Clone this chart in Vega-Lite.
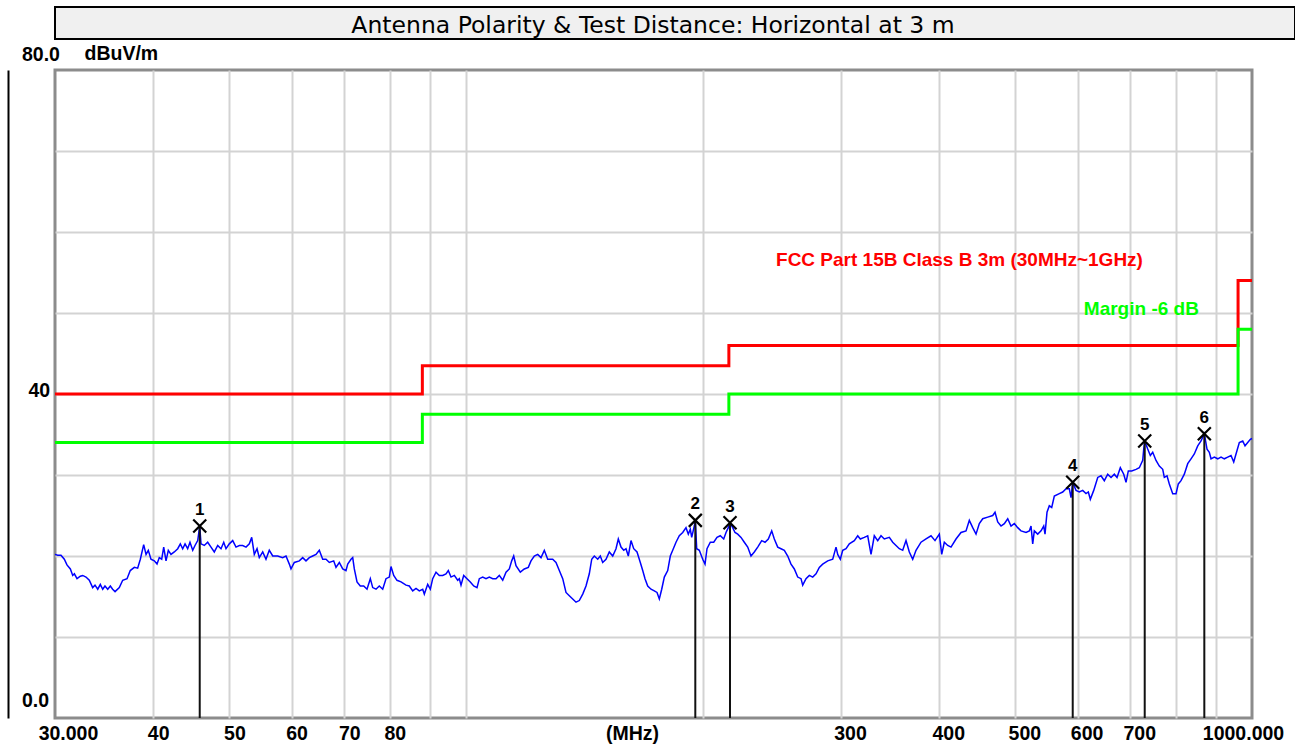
{
  "$schema": "https://vega.github.io/schema/vega-lite/v6.json",
  "background": "white",
  "padding": {"left": 6, "top": 6, "right": 0, "bottom": 0},
  "spacing": 1,
  "datasets": {
    "limits": [
      {"series": "limit", "freq": 30, "level": 40},
      {"series": "limit", "freq": 88, "level": 43.5},
      {"series": "limit", "freq": 216, "level": 46},
      {"series": "limit", "freq": 960, "level": 54},
      {"series": "limit", "freq": 1000, "level": 54},
      {"series": "margin", "freq": 30, "level": 34},
      {"series": "margin", "freq": 88, "level": 37.5},
      {"series": "margin", "freq": 216, "level": 40},
      {"series": "margin", "freq": 960, "level": 48},
      {"series": "margin", "freq": 1000, "level": 48}
    ],
    "notes": [
      {"series": "limit", "freq": 248, "level": 56.6, "text": "FCC Part 15B Class B 3m (30MHz~1GHz)"},
      {"series": "margin", "freq": 611, "level": 50.5, "text": "Margin -6 dB"}
    ],
    "markers": [
      {"label": "1", "freq": 45.84, "level": 23.7},
      {"label": "2", "freq": 195.77, "level": 24.4},
      {"label": "3", "freq": 216.72, "level": 24.1},
      {"label": "4", "freq": 591.44, "level": 29.1},
      {"label": "5", "freq": 730.32, "level": 34.2},
      {"label": "6", "freq": 869.64, "level": 35.1}
    ],
    "trace": [
      {"freq": 30.0, "level": 20.2}, {"freq": 30.24, "level": 20.1}, {"freq": 30.53, "level": 20.1}, {"freq": 30.83, "level": 19.6},
      {"freq": 31.07, "level": 18.9}, {"freq": 31.38, "level": 18.4}, {"freq": 31.6, "level": 17.6}, {"freq": 31.75, "level": 17.8},
      {"freq": 32.0, "level": 17.2}, {"freq": 32.31, "level": 17.5}, {"freq": 32.54, "level": 17.6}, {"freq": 32.85, "level": 17.4},
      {"freq": 33.17, "level": 17.0}, {"freq": 33.5, "level": 16.1}, {"freq": 33.73, "level": 16.4}, {"freq": 34.0, "level": 15.9},
      {"freq": 34.26, "level": 16.5}, {"freq": 34.5, "level": 15.9}, {"freq": 34.73, "level": 16.3}, {"freq": 35.01, "level": 15.9},
      {"freq": 35.28, "level": 16.3}, {"freq": 35.52, "level": 15.9}, {"freq": 35.77, "level": 15.6}, {"freq": 36.22, "level": 16.1},
      {"freq": 36.58, "level": 17.0}, {"freq": 37.05, "level": 17.2}, {"freq": 37.4, "level": 18.2}, {"freq": 37.85, "level": 18.6},
      {"freq": 38.22, "level": 18.5}, {"freq": 38.52, "level": 19.6}, {"freq": 38.9, "level": 21.4}, {"freq": 39.17, "level": 20.2},
      {"freq": 39.43, "level": 20.7}, {"freq": 39.74, "level": 19.6}, {"freq": 40.13, "level": 19.4}, {"freq": 40.45, "level": 19.0},
      {"freq": 40.72, "level": 19.8}, {"freq": 41.01, "level": 19.6}, {"freq": 41.25, "level": 21.1}, {"freq": 41.53, "level": 19.4},
      {"freq": 41.81, "level": 20.7}, {"freq": 42.14, "level": 20.2}, {"freq": 42.55, "level": 20.5}, {"freq": 42.98, "level": 20.9},
      {"freq": 43.31, "level": 21.5}, {"freq": 43.61, "level": 20.9}, {"freq": 43.91, "level": 21.5}, {"freq": 44.25, "level": 20.9},
      {"freq": 44.55, "level": 21.7}, {"freq": 44.91, "level": 20.7}, {"freq": 45.21, "level": 21.3}, {"freq": 45.57, "level": 21.9},
      {"freq": 45.84, "level": 23.7}, {"freq": 46.01, "level": 21.5}, {"freq": 46.46, "level": 21.3}, {"freq": 46.92, "level": 21.7},
      {"freq": 47.38, "level": 21.1}, {"freq": 47.84, "level": 20.5}, {"freq": 48.32, "level": 21.3}, {"freq": 48.79, "level": 20.9},
      {"freq": 49.18, "level": 21.7}, {"freq": 49.51, "level": 20.9}, {"freq": 49.99, "level": 21.5}, {"freq": 50.49, "level": 21.9},
      {"freq": 50.98, "level": 21.1}, {"freq": 51.48, "level": 21.3}, {"freq": 51.99, "level": 21.3}, {"freq": 52.5, "level": 21.1},
      {"freq": 53.01, "level": 21.5}, {"freq": 53.38, "level": 22.3}, {"freq": 53.79, "level": 20.2}, {"freq": 54.22, "level": 20.9},
      {"freq": 54.58, "level": 19.8}, {"freq": 55.13, "level": 20.5}, {"freq": 55.66, "level": 19.6}, {"freq": 56.2, "level": 20.7},
      {"freq": 56.77, "level": 20.0}, {"freq": 57.6, "level": 20.0}, {"freq": 58.45, "level": 19.8}, {"freq": 59.02, "level": 20.0},
      {"freq": 59.6, "level": 19.0}, {"freq": 59.89, "level": 18.4}, {"freq": 60.48, "level": 19.2}, {"freq": 61.37, "level": 19.4},
      {"freq": 61.98, "level": 19.8}, {"freq": 62.58, "level": 19.4}, {"freq": 63.19, "level": 19.8}, {"freq": 63.82, "level": 20.0},
      {"freq": 64.44, "level": 20.2}, {"freq": 65.07, "level": 20.7}, {"freq": 65.72, "level": 19.6}, {"freq": 66.36, "level": 19.6},
      {"freq": 67.01, "level": 19.2}, {"freq": 67.87, "level": 19.4}, {"freq": 68.33, "level": 18.6}, {"freq": 69.0, "level": 19.2},
      {"freq": 69.69, "level": 18.4}, {"freq": 70.36, "level": 18.2}, {"freq": 70.72, "level": 19.0}, {"freq": 71.4, "level": 19.6},
      {"freq": 71.76, "level": 19.8}, {"freq": 72.1, "level": 18.4}, {"freq": 72.67, "level": 16.8}, {"freq": 73.37, "level": 16.3},
      {"freq": 74.11, "level": 16.3}, {"freq": 74.83, "level": 15.9}, {"freq": 75.56, "level": 17.2}, {"freq": 76.09, "level": 16.1},
      {"freq": 76.83, "level": 15.9}, {"freq": 77.57, "level": 16.3}, {"freq": 78.35, "level": 15.9}, {"freq": 79.11, "level": 17.2},
      {"freq": 79.88, "level": 17.4}, {"freq": 80.28, "level": 18.7}, {"freq": 80.92, "level": 17.6}, {"freq": 81.7, "level": 17.0},
      {"freq": 82.67, "level": 16.8}, {"freq": 83.89, "level": 16.4}, {"freq": 84.7, "level": 16.3}, {"freq": 85.55, "level": 15.7},
      {"freq": 86.38, "level": 16.0}, {"freq": 87.22, "level": 15.7}, {"freq": 88.09, "level": 15.9}, {"freq": 88.51, "level": 15.3},
      {"freq": 89.39, "level": 16.5}, {"freq": 90.08, "level": 15.9}, {"freq": 90.71, "level": 17.2}, {"freq": 91.59, "level": 18.0},
      {"freq": 92.48, "level": 17.6}, {"freq": 93.41, "level": 17.6}, {"freq": 94.31, "level": 17.8}, {"freq": 94.95, "level": 18.2},
      {"freq": 95.71, "level": 17.4}, {"freq": 96.64, "level": 17.6}, {"freq": 97.6, "level": 17.0}, {"freq": 98.06, "level": 17.2},
      {"freq": 98.55, "level": 16.4}, {"freq": 99.33, "level": 17.6}, {"freq": 100.3, "level": 17.2}, {"freq": 101.27, "level": 16.8},
      {"freq": 102.29, "level": 16.3}, {"freq": 103.28, "level": 16.1}, {"freq": 103.98, "level": 17.2}, {"freq": 105.02, "level": 17.4},
      {"freq": 106.04, "level": 17.2}, {"freq": 107.07, "level": 17.4}, {"freq": 108.14, "level": 17.2}, {"freq": 109.19, "level": 17.2},
      {"freq": 110.25, "level": 17.6}, {"freq": 111.36, "level": 17.0}, {"freq": 112.44, "level": 18.0}, {"freq": 113.53, "level": 18.4},
      {"freq": 114.33, "level": 19.4}, {"freq": 115.0, "level": 20.0}, {"freq": 115.78, "level": 18.8}, {"freq": 117.25, "level": 18.0},
      {"freq": 118.63, "level": 18.4}, {"freq": 120.03, "level": 18.6}, {"freq": 120.98, "level": 19.4}, {"freq": 122.16, "level": 20.0},
      {"freq": 123.38, "level": 20.2}, {"freq": 124.58, "level": 19.8}, {"freq": 125.79, "level": 20.7}, {"freq": 127.05, "level": 19.6},
      {"freq": 128.92, "level": 19.6}, {"freq": 130.17, "level": 19.2}, {"freq": 131.44, "level": 18.2}, {"freq": 132.76, "level": 17.2},
      {"freq": 134.04, "level": 15.5}, {"freq": 135.35, "level": 15.1}, {"freq": 136.7, "level": 14.7}, {"freq": 138.03, "level": 14.3},
      {"freq": 139.37, "level": 14.5}, {"freq": 140.77, "level": 15.3}, {"freq": 142.13, "level": 16.3}, {"freq": 143.51, "level": 17.8},
      {"freq": 144.53, "level": 19.6}, {"freq": 145.63, "level": 20.0}, {"freq": 147.09, "level": 19.6}, {"freq": 148.21, "level": 20.0},
      {"freq": 149.26, "level": 19.2}, {"freq": 150.71, "level": 19.6}, {"freq": 152.17, "level": 20.5}, {"freq": 153.7, "level": 20.0},
      {"freq": 155.19, "level": 20.9}, {"freq": 156.24, "level": 22.1}, {"freq": 157.48, "level": 21.1}, {"freq": 158.73, "level": 20.7},
      {"freq": 159.8, "level": 20.9}, {"freq": 160.88, "level": 20.0}, {"freq": 162.16, "level": 21.9}, {"freq": 163.45, "level": 20.9},
      {"freq": 165.04, "level": 20.5}, {"freq": 166.64, "level": 19.2}, {"freq": 167.82, "level": 18.2}, {"freq": 168.95, "level": 17.2},
      {"freq": 170.29, "level": 16.3}, {"freq": 171.95, "level": 15.9}, {"freq": 173.62, "level": 15.7}, {"freq": 175.0, "level": 15.5},
      {"freq": 176.18, "level": 14.7}, {"freq": 177.42, "level": 15.9}, {"freq": 178.78, "level": 17.4}, {"freq": 180.57, "level": 18.2},
      {"freq": 181.95, "level": 20.0}, {"freq": 183.23, "level": 20.7}, {"freq": 185.01, "level": 21.7}, {"freq": 186.81, "level": 22.5},
      {"freq": 188.68, "level": 22.9}, {"freq": 190.51, "level": 23.5}, {"freq": 191.8, "level": 22.7}, {"freq": 192.93, "level": 23.3},
      {"freq": 193.72, "level": 22.3}, {"freq": 195.2, "level": 23.7}, {"freq": 195.77, "level": 24.4}, {"freq": 196.58, "level": 20.9},
      {"freq": 198.08, "level": 20.7}, {"freq": 200.07, "level": 19.6}, {"freq": 201.42, "level": 19.0}, {"freq": 202.6, "level": 20.9},
      {"freq": 204.57, "level": 21.7}, {"freq": 206.62, "level": 21.7}, {"freq": 208.62, "level": 22.3}, {"freq": 210.65, "level": 22.5},
      {"freq": 212.76, "level": 22.1}, {"freq": 214.2, "level": 22.9}, {"freq": 215.65, "level": 23.5}, {"freq": 216.72, "level": 24.1},
      {"freq": 218.44, "level": 23.5}, {"freq": 219.92, "level": 22.9}, {"freq": 221.67, "level": 22.7}, {"freq": 223.82, "level": 22.3},
      {"freq": 225.99, "level": 21.7}, {"freq": 228.26, "level": 21.1}, {"freq": 230.47, "level": 20.0}, {"freq": 232.71, "level": 20.5},
      {"freq": 235.04, "level": 21.1}, {"freq": 237.81, "level": 21.9}, {"freq": 240.12, "level": 21.7}, {"freq": 242.46, "level": 22.1},
      {"freq": 244.88, "level": 23.1}, {"freq": 246.76, "level": 22.1}, {"freq": 249.23, "level": 21.1}, {"freq": 251.64, "level": 20.9},
      {"freq": 254.09, "level": 20.7}, {"freq": 256.63, "level": 20.0}, {"freq": 259.13, "level": 19.0}, {"freq": 261.65, "level": 18.4},
      {"freq": 264.26, "level": 17.4}, {"freq": 266.83, "level": 17.2}, {"freq": 268.16, "level": 16.4}, {"freq": 270.77, "level": 17.2},
      {"freq": 273.4, "level": 17.6}, {"freq": 276.14, "level": 17.4}, {"freq": 278.82, "level": 17.8}, {"freq": 281.53, "level": 18.6},
      {"freq": 284.34, "level": 19.0}, {"freq": 288.54, "level": 19.4}, {"freq": 292.8, "level": 19.6}, {"freq": 295.64, "level": 21.1},
      {"freq": 297.12, "level": 20.2}, {"freq": 299.39, "level": 19.6}, {"freq": 301.5, "level": 20.7}, {"freq": 304.43, "level": 20.9},
      {"freq": 307.39, "level": 21.5}, {"freq": 311.92, "level": 21.9}, {"freq": 315.05, "level": 22.5}, {"freq": 317.45, "level": 22.1},
      {"freq": 321.2, "level": 22.3}, {"freq": 324.41, "level": 22.5}, {"freq": 327.56, "level": 20.2}, {"freq": 330.74, "level": 22.5},
      {"freq": 334.06, "level": 21.9}, {"freq": 337.3, "level": 22.5}, {"freq": 340.58, "level": 22.1}, {"freq": 345.6, "level": 22.3},
      {"freq": 349.06, "level": 21.7}, {"freq": 352.45, "level": 21.3}, {"freq": 355.88, "level": 20.9}, {"freq": 359.44, "level": 20.7},
      {"freq": 362.93, "level": 21.9}, {"freq": 366.46, "level": 20.5}, {"freq": 370.12, "level": 19.6}, {"freq": 373.72, "level": 20.7},
      {"freq": 379.23, "level": 21.7}, {"freq": 384.83, "level": 22.1}, {"freq": 390.51, "level": 22.5}, {"freq": 395.11, "level": 21.9},
      {"freq": 400.12, "level": 22.7}, {"freq": 402.95, "level": 20.2}, {"freq": 406.03, "level": 21.7}, {"freq": 410.09, "level": 21.3},
      {"freq": 414.07, "level": 21.1}, {"freq": 420.18, "level": 22.1}, {"freq": 426.38, "level": 22.9}, {"freq": 432.68, "level": 23.1},
      {"freq": 436.88, "level": 24.4}, {"freq": 441.25, "level": 23.5}, {"freq": 445.54, "level": 22.7}, {"freq": 449.87, "level": 24.0},
      {"freq": 454.37, "level": 24.6}, {"freq": 461.07, "level": 24.8}, {"freq": 467.87, "level": 25.0}, {"freq": 471.04, "level": 25.4},
      {"freq": 474.78, "level": 24.2}, {"freq": 479.39, "level": 23.7}, {"freq": 484.05, "level": 24.0}, {"freq": 488.89, "level": 24.6},
      {"freq": 493.64, "level": 23.7}, {"freq": 498.44, "level": 24.0}, {"freq": 503.43, "level": 23.5}, {"freq": 508.31, "level": 23.1},
      {"freq": 515.81, "level": 22.9}, {"freq": 520.83, "level": 23.1}, {"freq": 523.43, "level": 23.7}, {"freq": 526.04, "level": 21.5},
      {"freq": 528.51, "level": 23.1}, {"freq": 533.8, "level": 22.7}, {"freq": 538.99, "level": 23.1}, {"freq": 543.27, "level": 23.7},
      {"freq": 545.34, "level": 22.7}, {"freq": 548.54, "level": 25.4}, {"freq": 552.25, "level": 26.2}, {"freq": 556.15, "level": 26.0},
      {"freq": 560.41, "level": 27.4}, {"freq": 568.67, "level": 27.7}, {"freq": 574.36, "level": 27.9}, {"freq": 579.95, "level": 28.3},
      {"freq": 585.58, "level": 28.3}, {"freq": 588.5, "level": 27.2}, {"freq": 591.44, "level": 29.1}, {"freq": 597.19, "level": 28.1},
      {"freq": 602.99, "level": 27.9}, {"freq": 609.02, "level": 28.1}, {"freq": 614.94, "level": 27.7}, {"freq": 619.1, "level": 27.9},
      {"freq": 622.74, "level": 27.0}, {"freq": 628.97, "level": 28.1}, {"freq": 636.38, "level": 29.7}, {"freq": 642.56, "level": 29.9},
      {"freq": 648.81, "level": 29.3}, {"freq": 655.3, "level": 30.1}, {"freq": 661.67, "level": 29.7}, {"freq": 668.1, "level": 30.1},
      {"freq": 673.4, "level": 29.7}, {"freq": 679.94, "level": 30.9}, {"freq": 686.75, "level": 30.1}, {"freq": 691.39, "level": 29.1},
      {"freq": 696.07, "level": 30.5}, {"freq": 703.04, "level": 30.5}, {"freq": 711.95, "level": 30.7}, {"freq": 718.87, "level": 30.9},
      {"freq": 726.06, "level": 31.8}, {"freq": 728.19, "level": 33.2}, {"freq": 730.32, "level": 34.2}, {"freq": 736.77, "level": 33.2},
      {"freq": 742.4, "level": 32.4}, {"freq": 747.64, "level": 32.8}, {"freq": 754.91, "level": 31.8}, {"freq": 762.23, "level": 31.1},
      {"freq": 769.86, "level": 30.7}, {"freq": 773.48, "level": 29.7}, {"freq": 779.63, "level": 29.9}, {"freq": 784.9, "level": 28.9},
      {"freq": 792.75, "level": 27.7}, {"freq": 800.45, "level": 27.7}, {"freq": 805.86, "level": 28.9}, {"freq": 812.26, "level": 29.3},
      {"freq": 820.16, "level": 30.1}, {"freq": 828.36, "level": 31.4}, {"freq": 836.41, "level": 32.0}, {"freq": 844.53, "level": 32.6},
      {"freq": 852.99, "level": 33.6}, {"freq": 861.27, "level": 34.2}, {"freq": 869.64, "level": 35.1}, {"freq": 876.55, "level": 33.2},
      {"freq": 882.48, "level": 32.8}, {"freq": 886.88, "level": 32.0}, {"freq": 895.49, "level": 32.2}, {"freq": 904.46, "level": 32.0},
      {"freq": 913.25, "level": 32.2}, {"freq": 922.12, "level": 32.0}, {"freq": 931.35, "level": 32.2}, {"freq": 940.4, "level": 32.4},
      {"freq": 947.87, "level": 31.6}, {"freq": 954.27, "level": 32.6}, {"freq": 963.54, "level": 34.0}, {"freq": 973.19, "level": 34.2},
      {"freq": 979.77, "level": 33.6}, {"freq": 987.55, "level": 34.0}, {"freq": 995.11, "level": 34.4}, {"freq": 1000, "level": 34.5}
    ]
  },
  "vconcat": [
    {
      "width": 1240,
      "height": 32,
      "view": {"fill": "#f0f0f0", "stroke": "#000000", "strokeWidth": 2},
      "data": {"values": [{"t": "Antenna Polarity & Test Distance: Horizontal at 3 m"}]},
      "mark": {"type": "text", "font": "DejaVu Sans", "fontSize": 23.5, "baseline": "middle", "align": "center", "dy": 3, "dx": -22, "color": "#000000"},
      "encoding": {"text": {"field": "t", "type": "nominal"}}
    },
    {
      "width": 1197,
      "height": 648,
      "view": {"stroke": "#8c8c8c", "strokeWidth": 3, "fill": "white"},
      "encoding": {
        "x": {
          "field": "freq",
          "type": "quantitative",
          "scale": {"type": "log", "domain": [30, 1000], "nice": false},
          "axis": {
            "values": [30, 40, 50, 60, 70, 80, 90, 100, 200, 300, 400, 500, 600, 700, 800, 900, 1000],
            "labelExpr": "indexof([30,40,50,60,70,80,300,400,500,600,700,1000], datum.value) < 0 ? '' : (datum.value == 30 ? '30.000' : (datum.value == 1000 ? '1000.000' : format(datum.value, 'd')))",
            "domain": false,
            "ticks": false,
            "grid": true,
            "gridColor": "#d3d3d3",
            "gridWidth": 2,
            "gridOpacity": {"condition": {"test": "datum.value == 30 || datum.value == 1000", "value": 0}, "value": 1},
            "labelFlush": false,
            "labelOverlap": false,
            "labelAlign": "center",
            "labelBaseline": "top",
            "labelPadding": 6,
            "labelOffset": {"condition": [{"test": "datum.value == 30", "value": 13}, {"test": "datum.value == 1000", "value": -9}, {"test": "datum.value < 100", "value": 5}], "value": 9},
            "labelFont": "Liberation Sans",
            "labelFontWeight": "bold",
            "labelFontSize": 19.5,
            "labelColor": "#000000",
            "title": "(MHz)",
            "titleX": 577,
            "titleY": 6,
            "titleAlign": "center",
            "titleBaseline": "top",
            "titleFont": "Liberation Sans",
            "titleFontWeight": "bold",
            "titleFontSize": 19.5,
            "titleColor": "#000000"
          }
        },
        "y": {
          "field": "level",
          "type": "quantitative",
          "scale": {"domain": [0, 80], "nice": false, "zero": false},
          "axis": {
            "values": [0, 10, 20, 30, 40, 50, 60, 70, 80],
            "labelExpr": "datum.value == 80 ? '80.0' : (datum.value == 40 ? '40' : (datum.value == 0 ? '0.0' : ''))",
            "offset": 47,
            "domain": true,
            "domainColor": "#000000",
            "domainWidth": 2,
            "ticks": false,
            "grid": true,
            "gridColor": "#d3d3d3",
            "gridWidth": 2,
            "gridOpacity": {"condition": {"test": "datum.value == 0 || datum.value == 80", "value": 0}, "value": 1},
            "labelOverlap": false,
            "labelFlush": false,
            "labelAlign": "left",
            "labelBaseline": "middle",
            "labelPadding": {"condition": {"test": "datum.value == 40", "value": -20}, "value": -13.5},
            "labelOffset": {"condition": [{"test": "datum.value == 80", "value": -16}, {"test": "datum.value == 40", "value": -4}], "value": -18},
            "labelFont": "Liberation Sans",
            "labelFontWeight": "bold",
            "labelFontSize": 19.5,
            "labelColor": "#000000",
            "title": "dBuV/m",
            "titleAngle": 0,
            "titleX": 76,
            "titleY": -17,
            "titleAlign": "left",
            "titleBaseline": "middle",
            "titleFont": "Liberation Sans",
            "titleFontWeight": "bold",
            "titleFontSize": 19.5,
            "titleColor": "#000000"
          }
        }
      },
      "layer": [
        {
          "data": {"name": "limits"},
          "mark": {"type": "line", "interpolate": "step-after", "strokeWidth": 3},
          "encoding": {
            "color": {"field": "series", "type": "nominal", "scale": {"domain": ["limit", "margin"], "range": ["#ff0000", "#00ff00"]}, "legend": null}
          }
        },
        {
          "data": {"name": "trace"},
          "mark": {"type": "line", "color": "#0000ff", "strokeWidth": 1.5},
          "encoding": {}
        },
        {
          "data": {"name": "markers"},
          "mark": {"type": "rule", "color": "#111111", "strokeWidth": 2},
          "encoding": {"y2": {"datum": 0}}
        },
        {
          "data": {"name": "markers"},
          "mark": {"type": "point", "shape": "M-1,-1L1,1M-1,1L1,-1", "size": 169, "filled": false, "stroke": "#000000", "strokeWidth": 2.2, "opacity": 1}
        },
        {
          "data": {"name": "markers"},
          "mark": {"type": "text", "dy": -16, "baseline": "middle", "align": "center", "font": "Liberation Sans", "fontWeight": "bold", "fontSize": 17, "color": "#000000"},
          "encoding": {"text": {"field": "label", "type": "nominal"}}
        },
        {
          "data": {"name": "notes"},
          "mark": {"type": "text", "align": "left", "baseline": "middle", "font": "Liberation Sans", "fontWeight": "bold", "fontSize": 19},
          "encoding": {
            "text": {"field": "text", "type": "nominal"},
            "color": {"field": "series", "type": "nominal", "scale": {"domain": ["limit", "margin"], "range": ["#ff0000", "#00ff00"]}, "legend": null}
          }
        }
      ]
    }
  ]
}
